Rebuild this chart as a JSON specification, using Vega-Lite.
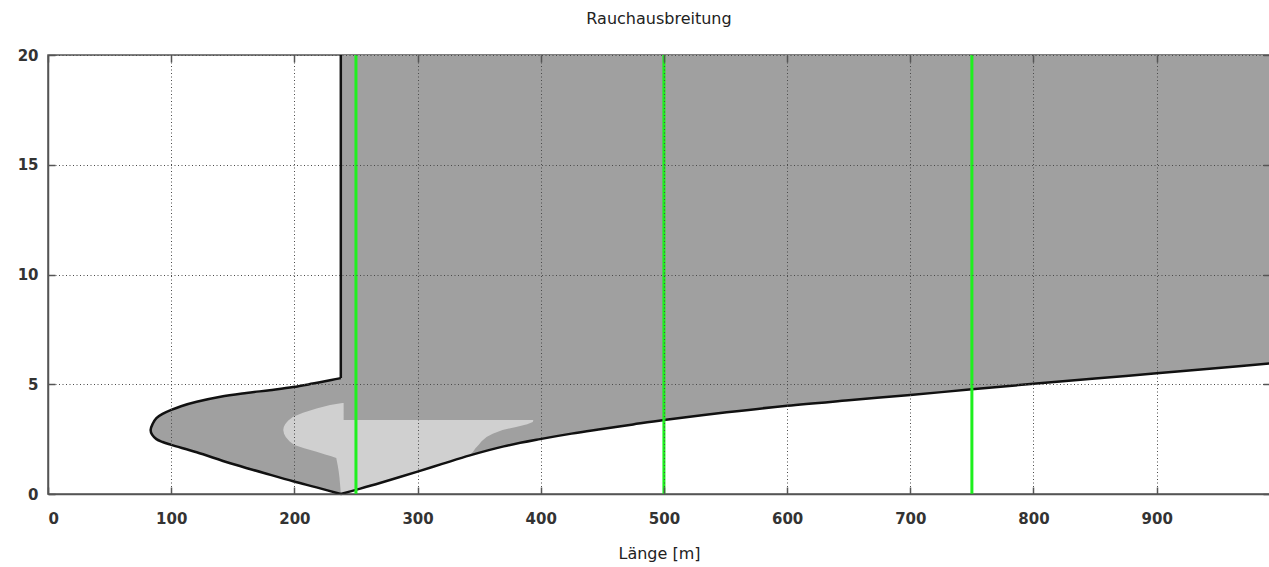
{
  "$schema": "https://vega.github.io/schema/vega-lite/v6.json",
  "width": 1222,
  "height": 439,
  "autosize": {"type": "none"},
  "padding": {"left": 48, "top": 55, "right": 0, "bottom": 73},
  "background": "white",
  "title": {
    "text": "Rauchausbreitung",
    "font": "DejaVu Sans",
    "fontSize": 16,
    "fontWeight": "normal",
    "color": "#222222",
    "anchor": "middle",
    "baseline": "alphabetic",
    "offset": 8
  },
  "config": {
    "view": {"stroke": "#555555", "strokeWidth": 1.5},
    "axis": {
      "zindex": 1,
      "domainColor": "#555555",
      "domainWidth": 1.5,
      "tickColor": "#555555",
      "tickWidth": 1.5,
      "labelFont": "DejaVu Sans",
      "labelFontSize": 15,
      "labelFontWeight": "bold",
      "labelColor": "#333333",
      "gridColor": "#4a4a4a",
      "gridDash": [1, 2.5],
      "gridWidth": 1,
      "gridOpacity": 1
    }
  },
  "datasets": {
    "outline": [
      {"seg": "v", "o": 0, "x": 237.7, "y": 20},
      {"seg": "v", "o": 1, "x": 237.7, "y": 5.28},
      {"seg": "b", "o": 0, "x": 237.7, "y": 5.28},
      {"seg": "b", "o": 1, "x": 230, "y": 5.19},
      {"seg": "b", "o": 2, "x": 215, "y": 5.03},
      {"seg": "b", "o": 3, "x": 199, "y": 4.87},
      {"seg": "b", "o": 4, "x": 180, "y": 4.73},
      {"seg": "b", "o": 5, "x": 161, "y": 4.6},
      {"seg": "b", "o": 6, "x": 140, "y": 4.43},
      {"seg": "b", "o": 7, "x": 120.7, "y": 4.2},
      {"seg": "b", "o": 8, "x": 108, "y": 4.0},
      {"seg": "b", "o": 9, "x": 100, "y": 3.83},
      {"seg": "b", "o": 10, "x": 93, "y": 3.65},
      {"seg": "b", "o": 11, "x": 88, "y": 3.46},
      {"seg": "b", "o": 12, "x": 85, "y": 3.2},
      {"seg": "b", "o": 13, "x": 83.3, "y": 2.92},
      {"seg": "b", "o": 14, "x": 84.5, "y": 2.7},
      {"seg": "b", "o": 15, "x": 88, "y": 2.5},
      {"seg": "b", "o": 16, "x": 93, "y": 2.37},
      {"seg": "b", "o": 17, "x": 100, "y": 2.24},
      {"seg": "b", "o": 18, "x": 120.7, "y": 1.9},
      {"seg": "b", "o": 19, "x": 148, "y": 1.4},
      {"seg": "b", "o": 20, "x": 174.6, "y": 0.97},
      {"seg": "b", "o": 21, "x": 199, "y": 0.58},
      {"seg": "b", "o": 22, "x": 218, "y": 0.3},
      {"seg": "b", "o": 23, "x": 237.7, "y": 0},
      {"seg": "c", "o": 0, "x": 237.7, "y": 0},
      {"seg": "c", "o": 1, "x": 250, "y": 0.19},
      {"seg": "c", "o": 2, "x": 269.5, "y": 0.5},
      {"seg": "c", "o": 3, "x": 300, "y": 1.02},
      {"seg": "c", "o": 4, "x": 320, "y": 1.37},
      {"seg": "c", "o": 5, "x": 342.5, "y": 1.76},
      {"seg": "c", "o": 6, "x": 370, "y": 2.17},
      {"seg": "c", "o": 7, "x": 399.4, "y": 2.5},
      {"seg": "c", "o": 8, "x": 425, "y": 2.75},
      {"seg": "c", "o": 9, "x": 449.7, "y": 2.96},
      {"seg": "c", "o": 10, "x": 475, "y": 3.17},
      {"seg": "c", "o": 11, "x": 500, "y": 3.37},
      {"seg": "c", "o": 12, "x": 551, "y": 3.72},
      {"seg": "c", "o": 13, "x": 600, "y": 4.02},
      {"seg": "c", "o": 14, "x": 650, "y": 4.27},
      {"seg": "c", "o": 15, "x": 700, "y": 4.51},
      {"seg": "c", "o": 16, "x": 750, "y": 4.77},
      {"seg": "c", "o": 17, "x": 800, "y": 5.02},
      {"seg": "c", "o": 18, "x": 850, "y": 5.26},
      {"seg": "c", "o": 19, "x": 900, "y": 5.5},
      {"seg": "c", "o": 20, "x": 950, "y": 5.74},
      {"seg": "c", "o": 21, "x": 992, "y": 5.95}
    ],
    "core": [
      {"y": 0.0, "xl": 237.7, "xr": 237.7},
      {"y": 0.25, "xl": 237.4, "xr": 254},
      {"y": 0.5, "xl": 237, "xr": 269.5},
      {"y": 0.75, "xl": 236.6, "xr": 285},
      {"y": 1.02, "xl": 236, "xr": 300},
      {"y": 1.3, "xl": 235.2, "xr": 316},
      {"y": 1.64, "xl": 234, "xr": 335},
      {"y": 1.72, "xl": 230, "xr": 339},
      {"y": 1.8, "xl": 225, "xr": 343},
      {"y": 1.93, "xl": 218, "xr": 345},
      {"y": 2.08, "xl": 208, "xr": 347},
      {"y": 2.23, "xl": 200, "xr": 349.5},
      {"y": 2.4, "xl": 196, "xr": 352},
      {"y": 2.6, "xl": 193, "xr": 356},
      {"y": 2.75, "xl": 191.6, "xr": 361},
      {"y": 2.92, "xl": 191, "xr": 369},
      {"y": 3.05, "xl": 191.4, "xr": 380},
      {"y": 3.18, "xl": 192.5, "xr": 389},
      {"y": 3.28, "xl": 194, "xr": 393.5},
      {"y": 3.37, "xl": 195.5, "xr": 394},
      {"y": 3.375, "xl": 195.6, "xr": 240},
      {"y": 3.52, "xl": 199, "xr": 240},
      {"y": 3.7, "xl": 207, "xr": 240},
      {"y": 3.9, "xl": 218, "xr": 240},
      {"y": 4.05, "xl": 229, "xr": 240},
      {"y": 4.15, "xl": 239, "xr": 240}
    ],
    "sections": [{"x": 250}, {"x": 500}, {"x": 750}]
  },
  "layer": [
    {
      "data": {"name": "outline"},
      "transform": [{"filter": "datum.seg === 'c'"}],
      "mark": {"type": "area", "color": "#a0a0a0", "interpolate": "catmull-rom"},
      "encoding": {
        "x": {
          "field": "x",
          "type": "quantitative",
          "scale": {"domain": [0, 992], "nice": false, "zero": false},
          "axis": {
            "orient": "bottom",
            "zindex": 1,
            "values": [0, 100, 200, 300, 400, 500, 600, 700, 800, 900],
            "grid": true,
            "tickSize": -7,
            "labelPadding": 24,
            "title": "Länge [m]",
            "titleFont": "DejaVu Sans",
            "titleFontSize": 16,
            "titleFontWeight": "normal",
            "titleColor": "#222222",
            "titleBaseline": "alphabetic",
            "titleY": 64
          }
        },
        "y": {
          "field": "y",
          "type": "quantitative",
          "scale": {"domain": [0, 20], "nice": false},
          "axis": {
            "orient": "left",
            "zindex": 1,
            "values": [0, 5, 10, 15, 20],
            "grid": true,
            "tickSize": -7,
            "labelPadding": 17,
            "title": null
          }
        },
        "y2": {"datum": 20}
      }
    },
    {
      "data": {"name": "outline"},
      "transform": [{"filter": "datum.seg === 'b'"}],
      "mark": {"type": "area", "orient": "horizontal", "color": "#a0a0a0", "interpolate": "catmull-rom"},
      "encoding": {
        "y": {
          "field": "y",
          "type": "quantitative",
          "axis": {
            "orient": "right",
            "zindex": 1,
            "values": [0, 5, 10, 15, 20],
            "labels": false,
            "grid": false,
            "domain": false,
            "tickSize": -7,
            "title": null
          }
        },
        "x": {
          "field": "x",
          "type": "quantitative",
          "stack": null,
          "axis": {
            "orient": "top",
            "zindex": 1,
            "values": [0, 100, 200, 300, 400, 500, 600, 700, 800, 900],
            "labels": false,
            "grid": false,
            "domain": false,
            "tickSize": -7,
            "title": null
          }
        },
        "x2": {"datum": 238.6}
      }
    },
    {
      "data": {"name": "core"},
      "mark": {"type": "area", "orient": "horizontal", "color": "#d0d0d0"},
      "encoding": {
        "y": {"field": "y", "type": "quantitative", "axis": null},
        "x": {"field": "xl", "type": "quantitative", "stack": null, "axis": null},
        "x2": {"field": "xr"}
      }
    },
    {
      "data": {"name": "outline"},
      "mark": {"type": "line", "color": "#111111", "strokeWidth": 2.5, "interpolate": "catmull-rom", "strokeJoin": "miter"},
      "encoding": {
        "x": {"field": "x", "type": "quantitative", "axis": null},
        "y": {"field": "y", "type": "quantitative", "axis": null},
        "detail": {"field": "seg"},
        "order": {"field": "o", "type": "quantitative"}
      }
    },
    {
      "data": {"name": "sections"},
      "mark": {"type": "rule", "color": "#1ef01e", "strokeWidth": 3},
      "encoding": {
        "x": {"field": "x", "type": "quantitative", "axis": null}
      }
    }
  ],
  "resolve": {"axis": {"x": "independent", "y": "independent"}}
}
